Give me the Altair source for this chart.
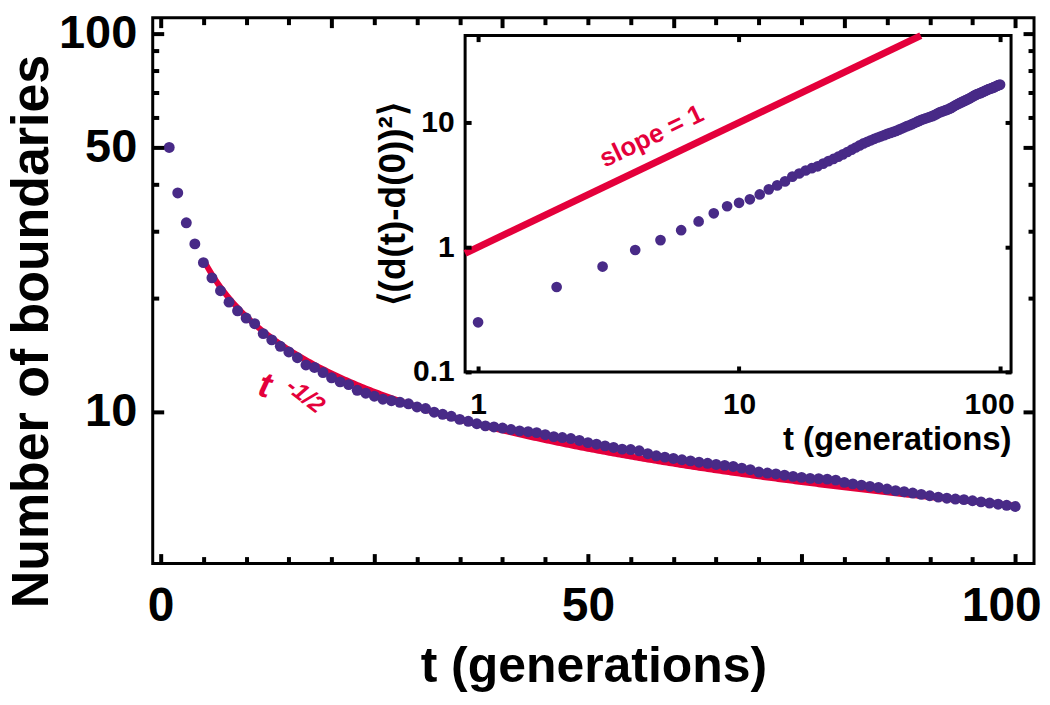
import altair as alt
import pandas as pd

# ---------------- data ----------------
t_gen = list(range(1, 101))

boundaries = [
    50.0, 37.9, 31.6, 27.8, 24.8, 22.6, 20.9, 19.5, 18.5, 17.7,
    17.1, 16.1, 15.5, 14.9, 14.4, 13.9, 13.3, 13.1, 12.7, 12.3,
    12.0, 11.8, 11.4, 11.2, 11.0, 10.8, 10.7, 10.6, 10.5, 10.3,
    10.2, 9.98, 9.85, 9.73, 9.55, 9.44, 9.30, 9.18, 9.12, 9.06,
    8.98, 8.90, 8.86, 8.81, 8.70, 8.60, 8.55, 8.50, 8.40, 8.29,
    8.21, 8.13, 8.05, 7.97, 7.95, 7.89, 7.75, 7.65, 7.59, 7.53,
    7.47, 7.42, 7.36, 7.31, 7.26, 7.22, 7.17, 7.10, 7.03, 6.93,
    6.89, 6.85, 6.80, 6.75, 6.71, 6.67, 6.66, 6.64, 6.60, 6.51,
    6.45, 6.40, 6.35, 6.31, 6.25, 6.19, 6.15, 6.10, 6.05, 6.00,
    5.95, 5.91, 5.88, 5.86, 5.82, 5.78, 5.74, 5.70, 5.66, 5.62,
]

msd = [
    0.25, 0.48, 0.70, 0.95, 1.14, 1.37, 1.61, 1.87, 2.13, 2.27,
    2.42, 2.65, 2.91, 3.13, 3.37, 3.68, 3.90, 4.12, 4.30, 4.45,
    4.68, 4.90, 5.10, 5.32, 5.55, 5.80, 6.05, 6.30, 6.55, 6.80,
    7.00, 7.20, 7.40, 7.58, 7.75, 7.92, 8.10, 8.25, 8.40, 8.55,
    8.75, 8.95, 9.15, 9.35, 9.50, 9.70, 9.90, 10.10, 10.30, 10.50,
    10.65, 10.80, 10.95, 11.10, 11.25, 11.45, 11.65, 11.90, 12.10, 12.25,
    12.40, 12.55, 12.70, 12.90, 13.10, 13.35, 13.60, 13.85, 14.05, 14.30,
    14.50, 14.70, 14.90, 15.10, 15.30, 15.50, 15.75, 16.00, 16.25, 16.50,
    16.70, 16.90, 17.05, 17.20, 17.40, 17.60, 17.80, 18.00, 18.20, 18.40,
    18.55, 18.70, 18.85, 19.00, 19.20, 19.40, 19.60, 19.80, 19.95, 20.10,
]

# power-law guide curves
fit_amplitude = 56.5      # N(t) = A * t^-1/2
fit_exponent = -0.5
fit_t_range = [5, 100]
slope_line_t = [0.892, 49.7]   # <..> = t  (slope 1)

# tick values
main_x_major_bottom = [0, 25, 50, 75, 100]
main_x_minor_bottom = [5, 10, 15, 20, 30, 35, 40, 45, 55, 60, 65, 70, 80, 85, 90, 95]
main_x_major_top = [0, 20, 40, 60, 80, 100]
main_x_minor_top = [5, 10, 15, 25, 30, 35, 45, 50, 55, 65, 70, 75, 85, 90, 95]
main_y_major = [10, 50, 100]
main_y_minor = [20, 30, 40, 60, 70, 80, 90]
inset_x_ticks = [1, 10, 100]
inset_y_ticks = [0.1, 1, 10]

# annotation positions (data coordinates)
ann_main = pd.DataFrame({"t": [12.2, 16.9], "n": [11.7, 11.0], "txt": ["t", "-1/2"]})
ann_inset = pd.DataFrame({"t": [4.63], "msd": [7.73], "txt": ["slope = 1"]})

RED = "#E4003B"
PURPLE = "#482A87"
FONT = "Liberation Sans"

main_df = pd.DataFrame({"t": t_gen, "n": boundaries})
inset_df = pd.DataFrame({"t": t_gen, "msd": msd})
slope_df = pd.DataFrame({"t": slope_line_t})

W, H = 883, 547

main_x_scale = alt.Scale(domain=[-0.93, 102.2], nice=False, zero=False)
main_y_scale = alt.Scale(type="log", domain=[3.97, 110.2], nice=False)
inset_x_scale = alt.Scale(type="log", domain=[0.892, 110.2], range=[313, 860], nice=False)
inset_y_scale = alt.Scale(type="log", domain=[0.1, 49.7], range=[355, 18], nice=False)

common_tick = dict(domain=False, grid=False, ticks=True, tickWidth=4, tickColor="#000000",
                   tickOpacity=1, zindex=2, labelFont=FONT, labelFontWeight="bold",
                   labelColor="black", labelFlush=False, labelOverlap=False, titleFont=FONT,
                   titleFontWeight="bold", titleColor="black")


def tick_axis(orient, values, size, **kw):
    opts = dict(common_tick)
    opts.update(kw)
    if "labels" not in kw:
        opts["labels"] = False
    if "title" not in kw:
        opts["title"] = None
    return alt.Axis(orient=orient, values=values, tickSize=size, offset=-size, **opts)


# ---------------- main plot ----------------
x_bot_major = tick_axis(
    "bottom", main_x_major_bottom, 10, labels=True, format="d",
    labelExpr="(datum.value == 25 || datum.value == 75) ? '' : datum.label",
    labelFontSize=48, labelPadding=19,
    labelOffset={"condition": {"test": "datum.value >= 100", "value": -14}, "value": 0},
    title="t (generations)", titleFontSize=50, titleY=128, titleBaseline="alphabetic",
)
x_bot_minor = tick_axis("bottom", main_x_minor_bottom, 7)
x_top_major = tick_axis("top", main_x_major_top, 10)
x_top_minor = tick_axis("top", main_x_minor_top, 7)

y_left_major = tick_axis(
    "left", main_y_major, 11, labels=True, format="d", labelFontSize=47, labelPadding=16,
    title="Number of boundaries", titleFontSize=52, titleAngle=270, titleX=-116, titleY=314,
    titleBaseline="alphabetic", titleAlign="center",
)
y_left_minor = tick_axis("left", main_y_minor, 6)
y_right_major = tick_axis("right", main_y_major, 11)
y_right_minor = tick_axis("right", main_y_minor, 6)

fit_layer = alt.Chart(
    alt.sequence(fit_t_range[0], fit_t_range[1] + 0.25, 0.25, as_="t")
).transform_calculate(
    n=f"{fit_amplitude} * pow(datum.t, {fit_exponent})"
).mark_line(color=RED, strokeWidth=6).encode(
    x=alt.X("t:Q", scale=main_x_scale, axis=x_bot_minor),
    y=alt.Y("n:Q", scale=main_y_scale, axis=y_left_minor),
)

pts_layer = alt.Chart(main_df).mark_circle(size=120, color=PURPLE, opacity=1).encode(
    x=alt.X("t:Q", scale=main_x_scale, axis=x_bot_major),
    y=alt.Y("n:Q", scale=main_y_scale, axis=y_left_major),
)

mirror_major = alt.Chart(main_df).mark_circle(opacity=0).encode(
    x=alt.X("t:Q", scale=main_x_scale, axis=x_top_major),
    y=alt.Y("n:Q", scale=main_y_scale, axis=y_right_major),
)
mirror_minor = alt.Chart(main_df).mark_circle(opacity=0).encode(
    x=alt.X("t:Q", scale=main_x_scale, axis=x_top_minor),
    y=alt.Y("n:Q", scale=main_y_scale, axis=y_right_minor),
)

t_label = alt.Chart(ann_main).transform_filter("datum.txt == 't'").mark_text(
    color=RED, font=FONT, fontWeight="bold", fontStyle="italic", fontSize=36, angle=14,
    align="center", baseline="middle",
).encode(
    x=alt.X("t:Q", scale=main_x_scale, axis=None),
    y=alt.Y("n:Q", scale=main_y_scale, axis=None),
    text="txt:N",
)
exp_label = alt.Chart(ann_main).transform_filter("datum.txt != 't'").mark_text(
    color=RED, font=FONT, fontWeight="bold", fontStyle="italic", fontSize=24, angle=38,
    align="center", baseline="middle",
).encode(
    x=alt.X("t:Q", scale=main_x_scale, axis=None),
    y=alt.Y("n:Q", scale=main_y_scale, axis=None),
    text="txt:N",
)

main = alt.layer(fit_layer, pts_layer, mirror_major, mirror_minor, t_label, exp_label).resolve_axis(
    x="independent", y="independent"
)

# ---------------- inset ----------------
ix_bottom = alt.Axis(
    orient="bottom", values=inset_x_ticks, tickSize=6, offset=-(H - 355 + 6),
    labels=True, format="d", labelFontSize=30, labelPadding=18,
    labelOffset={"condition": {"test": "datum.value >= 100", "value": -11}, "value": 0},
    title="t (generations)", titleFontSize=33, titleAnchor="end", titleAlign="right",
    titleY=84, titleBaseline="alphabetic", **common_tick,
)
ix_top = alt.Axis(orient="top", values=inset_x_ticks, tickSize=6, offset=-(18 + 6),
                  labels=False, title=None, **common_tick)
iy_left = alt.Axis(
    orient="left", values=inset_y_ticks, tickSize=6, offset=-(313 + 6),
    labels=True, format="~g", labelFontSize=30, labelPadding=11,
    title="⟨(d(t)-d(0))²⟩", titleFontSize=37, titleAngle=270, titleX=-67,
    titleBaseline="alphabetic", titleAlign="center", **common_tick,
)
iy_right = alt.Axis(orient="right", values=inset_y_ticks, tickSize=6, offset=-(W - 860 + 6),
                    labels=False, title=None, **common_tick)

frame_df = pd.DataFrame({"x0": [inset_x_scale.domain[0]], "x1": [inset_x_scale.domain[1]],
                         "y0": [inset_y_scale.domain[0]], "y1": [inset_y_scale.domain[1]]})
inset_frame = alt.Chart(frame_df).mark_rect(fill="white", stroke="black", strokeWidth=3).encode(
    x=alt.X("x0:Q", scale=inset_x_scale, axis=None),
    x2="x1:Q",
    y=alt.Y("y0:Q", scale=inset_y_scale, axis=None),
    y2="y1:Q",
)

slope_layer = alt.Chart(slope_df).transform_calculate(msd="datum.t").mark_line(
    color=RED, strokeWidth=7
).encode(
    x=alt.X("t:Q", scale=inset_x_scale, axis=ix_top),
    y=alt.Y("msd:Q", scale=inset_y_scale, axis=iy_right),
)

inset_pts = alt.Chart(inset_df).mark_circle(size=115, color=PURPLE, opacity=1).encode(
    x=alt.X("t:Q", scale=inset_x_scale, axis=ix_bottom),
    y=alt.Y("msd:Q", scale=inset_y_scale, axis=iy_left),
)

slope_label = alt.Chart(ann_inset).mark_text(
    color=RED, font=FONT, fontWeight="bold", fontSize=26, angle=334.5,
    align="center", baseline="middle",
).encode(
    x=alt.X("t:Q", scale=inset_x_scale, axis=None),
    y=alt.Y("msd:Q", scale=inset_y_scale, axis=None),
    text="txt:N",
)

inset = alt.layer(inset_frame, slope_layer, inset_pts, slope_label).resolve_axis(
    x="independent", y="independent"
)

chart = alt.layer(main, inset).resolve_scale(
    x="independent", y="independent"
).properties(
    width=W, height=H,
    autosize=alt.AutoSizeParams(type="none"),
    padding={"left": 145, "top": 9, "right": 8, "bottom": 130},
).configure(
    background="white",
    view=alt.ViewConfig(stroke="black", strokeWidth=3),
    axis=alt.AxisConfig(tickColor="black", tickWidth=4),
)

chart.save("out.html", embed_options={"renderer": "svg", "actions": False})
